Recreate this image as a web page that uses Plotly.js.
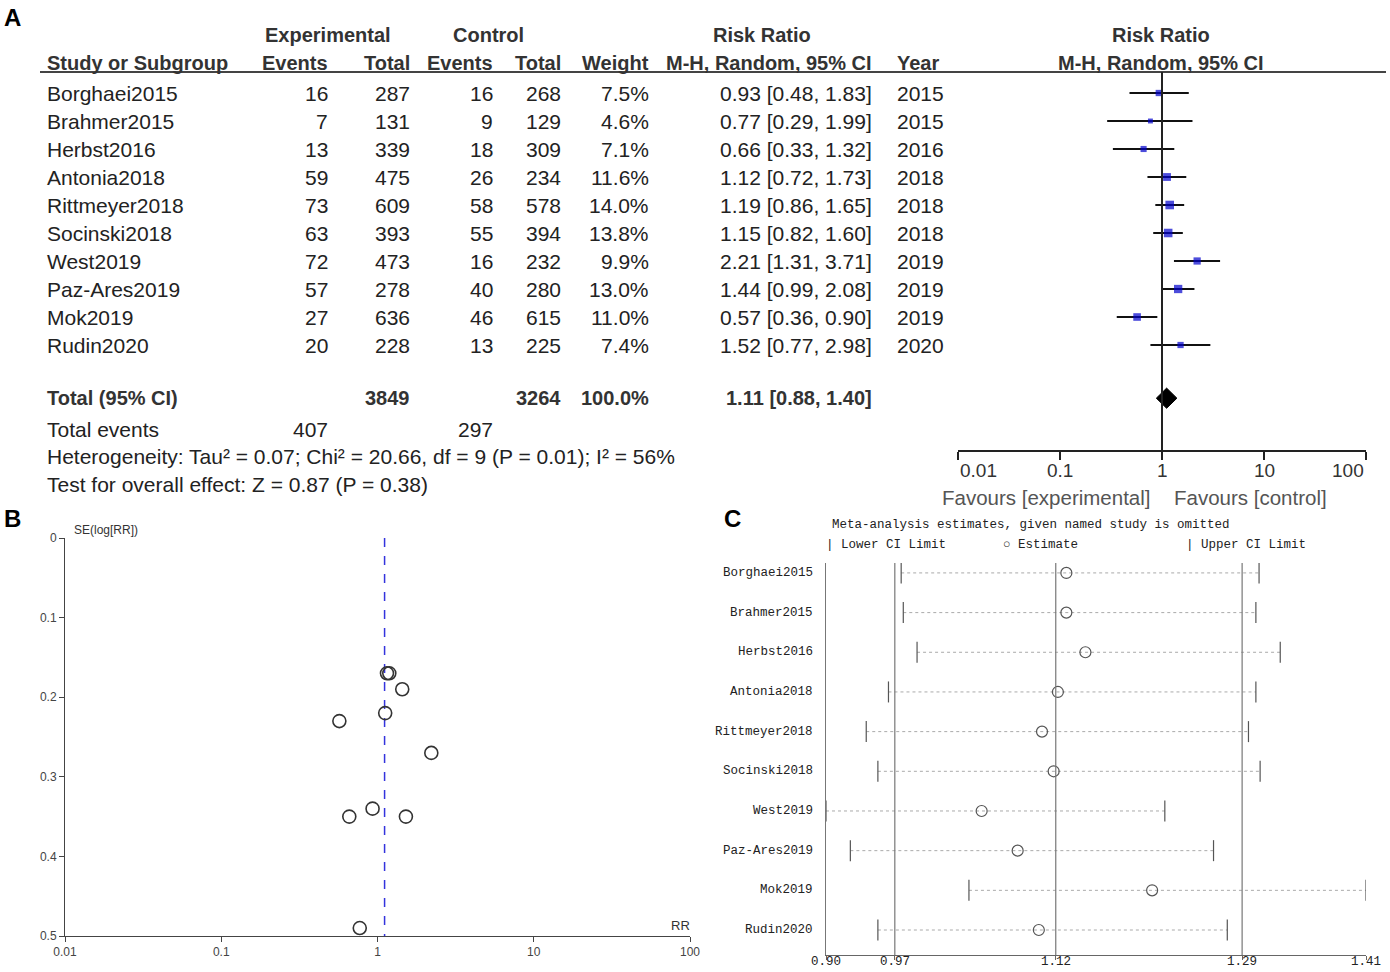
<!DOCTYPE html>
<html>
<head>
<meta charset="utf-8">
<script src="https://cdn.plot.ly/plotly-3.0.1.min.js"></script>
<style>html,body{margin:0;padding:0;background:#fff;}#chart{width:1390px;height:972px;}</style>
</head>
<body>
<div id="chart"></div>
<script>
// ---------- DATA ----------
const studies = ['Borghaei2015','Brahmer2015','Herbst2016','Antonia2018','Rittmeyer2018','Socinski2018','West2019','Paz-Ares2019','Mok2019','Rudin2020'];
const expEvents = [16,7,13,59,73,63,72,57,27,20];
const expTotal = [287,131,339,475,609,393,473,278,636,228];
const ctlEvents = [16,9,18,26,58,55,16,40,46,13];
const ctlTotal = [268,129,309,234,578,394,232,280,615,225];
const weights = [7.5,4.6,7.1,11.6,14.0,13.8,9.9,13.0,11.0,7.4];
const rr = [0.93,0.77,0.66,1.12,1.19,1.15,2.21,1.44,0.57,1.52];
const rrLo = [0.48,0.29,0.33,0.72,0.86,0.82,1.31,0.99,0.36,0.77];
const rrHi = [1.83,1.99,1.32,1.73,1.65,1.60,3.71,2.08,0.90,2.98];
const years = [2015,2015,2016,2018,2018,2018,2019,2019,2019,2020];
const totalExp = 3849, totalCtl = 3264, totalWeight = '100.0%';
const totalExpEvents = 407, totalCtlEvents = 297;
const pooledRR = 1.11, pooledLo = 0.88, pooledHi = 1.40;
const heterogeneityText = 'Heterogeneity: Tau² = 0.07; Chi² = 20.66, df = 9 (P = 0.01); I² = 56%';
const overallText = 'Test for overall effect: Z = 0.87 (P = 0.38)';
const forestTicks = [0.01,0.1,1,10,100];
const forestTickText = ['0.01','0.1','1','10','100'];

// funnel plot (B)
const seLogRR = [0.34,0.49,0.35,0.22,0.17,0.17,0.27,0.19,0.23,0.35];
const funnelYTicks = [0,0.1,0.2,0.3,0.4,0.5];
const funnelYTickText = ['0','0.1','0.2','0.3','0.4','0.5'];

// sensitivity analysis (C)
const omitEst = [1.127,1.127,1.145,1.119,1.104,1.115,1.047,1.081,1.208,1.101];
const omitLo  = [0.971,0.973,0.986,0.959,0.938,0.949,0.900,0.923,1.035,0.949];
const omitHi  = [1.309,1.306,1.329,1.306,1.299,1.310,1.220,1.266,1.410,1.279];
const sensTickVals = [0.90,0.965,1.117,1.293,1.41];
const sensTickText = ['0.90','0.97','1.12','1.29','1.41'];
const sensRefLines = [0.965,1.117,1.293];

// ---------- LAYOUT HELPERS ----------
const W = 1390, H = 972;
const px = v => v / W;
const py = v => 1 - v / H;
const FONT = 'Liberation Sans, Arial, sans-serif';
const MONO = 'Liberation Mono, DejaVu Sans Mono, monospace';
const TXT = '#222';
const totalRow = 10.9;
const DS = 21; // data font size

const ann = [];
function t(text, x, y, anchor, opts) {
  opts = opts || {};
  ann.push(Object.assign({
    text: text, x: x, y: y, xref: 'paper', yref: opts.yref || 'y',
    xanchor: anchor, yanchor: 'middle', showarrow: false,
    font: {family: opts.family || FONT, size: opts.size || DS, color: opts.color || TXT}
  }, opts.extra || {}));
}
const B = s => '<b>' + s + '</b>';

// Panel labels
t(B('A'), px(2), py(18), 'left', {yref:'paper', size:24, color:'#000'});
t(B('B'), px(2), py(518), 'left', {yref:'paper', size:24, color:'#000'});
t(B('C'), px(722), py(518), 'left', {yref:'paper', size:24, color:'#000'});

// Table headers
const hy1 = py(35), hy2 = py(63);
const H1 = {yref:'paper', size:20, color:'#333'};
t(B('Experimental'), px(328), hy1, 'center', H1);
t(B('Control'), px(488), hy1, 'center', H1);
t(B('Risk Ratio'), px(762), hy1, 'center', H1);
t(B('Risk Ratio'), px(1161), hy1, 'center', H1);
t(B('Study or Subgroup'), px(45), hy2, 'left', H1);
t(B('Events'), px(330), hy2, 'right', H1);
t(B('Total'), px(412), hy2, 'right', H1);
t(B('Events'), px(495), hy2, 'right', H1);
t(B('Total'), px(563), hy2, 'right', H1);
t(B('Weight'), px(651), hy2, 'right', H1);
t(B('M-H, Random, 95% CI'), px(874), hy2, 'right', H1);
t(B('Year'), px(895), hy2, 'left', H1);
t(B('M-H, Random, 95% CI'), px(1161), hy2, 'center', H1);

// Table rows
const f2 = v => v.toFixed(2);
studies.forEach((s, i) => {
  t(s, px(45), i, 'left');
  t(String(expEvents[i]), px(330), i, 'right');
  t(String(expTotal[i]), px(412), i, 'right');
  t(String(ctlEvents[i]), px(495), i, 'right');
  t(String(ctlTotal[i]), px(563), i, 'right');
  t(weights[i].toFixed(1) + '%', px(651), i, 'right');
  t(f2(rr[i]) + ' [' + f2(rrLo[i]) + ', ' + f2(rrHi[i]) + ']', px(874), i, 'right');
  t(String(years[i]), px(895), i, 'left');
});
const TB = {color:'#333', size:20};
t(B('Total (95% CI)'), px(45), totalRow, 'left', TB);
t(B(String(totalExp)), px(412), totalRow, 'right', TB);
t(B(String(totalCtl)), px(563), totalRow, 'right', TB);
t(B(totalWeight), px(651), totalRow, 'right', TB);
t(B(f2(pooledRR) + ' [' + f2(pooledLo) + ', ' + f2(pooledHi) + ']'), px(874), totalRow, 'right', TB);
t('Total events', px(45), 12, 'left');
t(String(totalExpEvents), px(330), 12, 'right');
t(String(totalCtlEvents), px(495), 12, 'right');
t(heterogeneityText, px(45), py(457), 'left', {yref:'paper'});
t(overallText, px(45), py(485), 'left', {yref:'paper'});

// Forest axis tick labels
const tickAnchors = ['left','center','center','center','right'];
forestTicks.forEach((v, i) => {
  ann.push({text: forestTickText[i], x: Math.log10(v), y: py(470), xref:'x', yref:'paper',
    xanchor: tickAnchors[i], yanchor:'middle', showarrow:false,
    font:{family:FONT, size:19, color:'#333'}});
});
t('Favours [experimental]', px(1153), py(497), 'right', {yref:'paper', size:20.5, color:'#555'});
t('Favours [control]', px(1172), py(497), 'left', {yref:'paper', size:20.5, color:'#555'});

// Panel B labels
t('SE(log[RR])', px(72), py(530), 'left', {yref:'paper', size:12, color:'#333'});
t('RR', px(680), py(925), 'center', {yref:'paper', size:13, color:'#333'});

// Panel C labels
const CM = {yref:'paper', family:MONO, size:12.5, color:'#222'};
t('Meta-analysis estimates, given named study is omitted', px(830), py(525), 'left', CM);
t('| Lower CI Limit', px(824), py(545), 'left', CM);
t('○ Estimate', px(1001), py(545), 'left', CM);
t('| Upper CI Limit', px(1184), py(545), 'left', CM);
studies.forEach((s, i) => {
  ann.push({text: s, x: px(815), y: i, xref:'paper', yref:'y3', xanchor:'right', yanchor:'middle',
    showarrow:false, font:{family:MONO, size:12.5, color:'#222'}});
});
sensTickVals.forEach((v, i) => {
  ann.push({text: sensTickText[i], x: v, y: py(962), xref:'x3', yref:'paper', xanchor:'center', yanchor:'middle',
    showarrow:false, font:{family:MONO, size:12.5, color:'#222'}});
});

// ---------- TRACES ----------
function segs(lo, hi, ys) {
  const xs = [], yy = [];
  lo.forEach((l, i) => { xs.push(l, hi[i], null); yy.push(ys[i], ys[i], null); });
  return {x: xs, y: yy};
}
const idx = studies.map((_, i) => i);

const ciSeg = segs(rrLo, rrHi, idx);
const traces = [
  {type:'scatter', mode:'lines', x: ciSeg.x, y: ciSeg.y, xaxis:'x', yaxis:'y',
   line:{color:'#111', width:2}, hoverinfo:'skip'},
  {type:'scatter', mode:'markers', x: rr, y: idx, xaxis:'x', yaxis:'y',
   marker:{symbol:'square', color:'#0000cc', size: weights.map(w => 2.3 * Math.sqrt(w)), line:{width:0}}},
  {type:'scatter', mode:'lines', fill:'toself', fillcolor:'#000',
   x:[pooledLo, pooledRR, pooledHi, pooledRR, pooledLo],
   y:[totalRow, totalRow - 0.36, totalRow, totalRow + 0.36, totalRow],
   xaxis:'x', yaxis:'y', line:{color:'#000', width:1}},
  // funnel
  {type:'scatter', mode:'lines', x:[pooledRR, pooledRR], y:[0, 0.5], xaxis:'x2', yaxis:'y2',
   line:{color:'#3333dd', width:1.5, dash:'dash'}},
  {type:'scatter', mode:'markers', x: rr, y: seLogRR, xaxis:'x2', yaxis:'y2',
   marker:{symbol:'circle-open', size:13, color:'#333', line:{width:1.6, color:'#333'}}},
];
const omSeg = segs(omitLo, omitHi, idx);
traces.push(
  {type:'scatter', mode:'lines', x: omSeg.x, y: omSeg.y, xaxis:'x3', yaxis:'y3',
   line:{color:'#aaa', width:1, dash:'dot'}, hoverinfo:'skip'},
  {type:'scatter', mode:'markers', x: omitLo, y: idx, xaxis:'x3', yaxis:'y3',
   marker:{symbol:'line-ns', size:15, line:{width:1.2, color:'#555'}}},
  {type:'scatter', mode:'markers', x: omitHi, y: idx, xaxis:'x3', yaxis:'y3',
   marker:{symbol:'line-ns', size:15, line:{width:1.2, color:'#555'}}},
  {type:'scatter', mode:'markers', x: omitEst, y: idx, xaxis:'x3', yaxis:'y3',
   marker:{symbol:'circle-open', size:11, color:'#555', line:{width:1.2, color:'#555'}}}
);

// ---------- SHAPES ----------
const shapes = [
  {type:'line', xref:'paper', yref:'paper', x0:px(40), x1:px(1386), y0:py(72), y1:py(72), line:{color:'#444', width:2}},
  {type:'line', xref:'x', yref:'paper', x0:1, x1:1, y0:py(72), y1:py(450), line:{color:'#222', width:2}},
];
sensRefLines.forEach(v => shapes.push({type:'line', xref:'x3', yref:'paper', x0:v, x1:v, y0:py(563), y1:py(955), line:{color:'#777', width:1.2}}));

// ---------- AXES ----------
const hidden = {visible:false, showgrid:false, zeroline:false};
const layout = {
  width: W, height: H, margin:{l:0, r:0, t:0, b:0}, showlegend:false,
  paper_bgcolor:'#fff', plot_bgcolor:'rgba(0,0,0,0)',
  font:{family:FONT, color:TXT},
  xaxis:{type:'log', domain:[px(958), px(1366)], range:[-2, 2], anchor:'y',
    showgrid:false, zeroline:false, showline:true, linecolor:'#222', linewidth:2,
    ticks:'outside', ticklen:8, tickwidth:2, tickcolor:'#222', tickvals: forestTicks, showticklabels:false},
  xaxis4:{type:'log', overlaying:'x', range:[-2, 2], anchor:'y', showgrid:false, zeroline:false,
    showline:false, ticks:'inside', ticklen:8, tickwidth:2, tickcolor:'#222', tickvals: forestTicks, showticklabels:false},
  yaxis:Object.assign({domain:[py(450), py(72)], range:[12.75, -0.75], anchor:'x'}, hidden),
  xaxis2:{type:'log', domain:[px(65), px(690)], range:[-2, 2], anchor:'y2',
    showgrid:false, zeroline:false, showline:true, linecolor:'#444', linewidth:1,
    ticks:'outside', ticklen:5, tickcolor:'#444', tickvals: forestTicks, ticktext: forestTickText,
    tickfont:{size:12, color:'#444'}},
  yaxis2:{domain:[py(936), py(538)], range:[0.5, 0], anchor:'x2',
    showgrid:false, zeroline:false, showline:true, linecolor:'#444', linewidth:1,
    ticks:'outside', ticklen:5, tickcolor:'#444', tickvals: funnelYTicks, ticktext: funnelYTickText,
    tickfont:{size:12, color:'#444'}},
  xaxis3:{domain:[px(826), px(1366)], range:[0.90, 1.41], anchor:'y3',
    showgrid:false, zeroline:false, showline:true, linecolor:'#666', linewidth:1.2,
    ticks:'outside', ticklen:4, tickcolor:'#666', tickvals: sensTickVals, showticklabels:false},
  yaxis3:{domain:[py(955), py(563)], range:[9.63, -0.25], anchor:'x3',
    showgrid:false, zeroline:false, showline:true, linecolor:'#777', linewidth:1.2,
    ticks:'', showticklabels:false},
  annotations: ann,
  shapes: shapes
};

Plotly.newPlot('chart', traces, layout, {staticPlot:true, displayModeBar:false});
</script>
</body>
</html>
